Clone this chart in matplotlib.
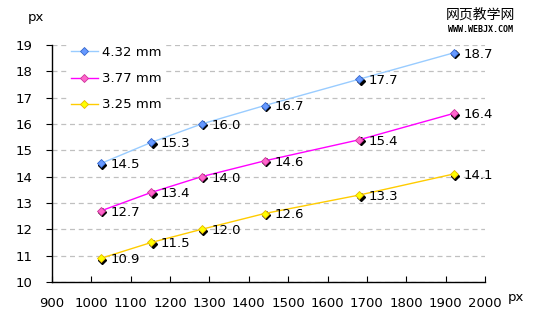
import matplotlib.pyplot as plt
import matplotlib.transforms as mtrans

plt.rcParams['font.family'] = ['DejaVu Sans', 'Noto Sans CJK SC']

x = [1024, 1152, 1280, 1440, 1680, 1920]
series_names = ['4.32 mm', '3.77 mm', '3.25 mm']
y_432 = [14.5, 15.3, 16.0, 16.7, 17.7, 18.7]
y_377 = [12.7, 13.4, 14.0, 14.6, 15.4, 16.4]
y_325 = [10.9, 11.5, 12.0, 12.6, 13.3, 14.1]

line_cols = ['#99ccff', '#ff00ff', '#ffcc00']
mark_cols = ['#6699ff', '#ff66cc', '#ffff00']
edge_cols = ['#3366cc', '#cc3399', '#e6b800']

fig = plt.figure(figsize=(5.33, 3.32), dpi=100)
ax = fig.add_axes([0.0976, 0.1506, 0.8124, 0.7139])

shadow = mtrans.offset_copy(ax.transData, fig=fig, x=1.5, y=-1.5, units='dots')

for ys, name, lc, mc, ec in zip([y_432, y_377, y_325], series_names,
                                line_cols, mark_cols, edge_cols):
    ax.plot(x, ys, '-', color=lc, lw=1, zorder=3, label=name,
            marker='D', ms=4.5, mfc=mc, mec=ec, mew=0.6)
    ax.plot(x, ys, 'D', color='black', ms=4, transform=shadow, zorder=2.5)
    for xi, yi in zip(x, ys):
        ax.annotate('%.1f' % yi, (xi, yi), xytext=(7, -1), textcoords='offset points',
                    ha='left', va='center', fontsize=9.5, zorder=4)

ax.set_xlim(900, 2000)
ax.set_ylim(10, 19)
ax.set_xticks(range(900, 2001, 100))
ax.set_yticks(range(10, 20))
ax.grid(axis='y', color='#c0c0c0', ls=(0, (4, 3)), lw=0.9)
ax.set_axisbelow(True)
for s in ['top', 'right']:
    ax.spines[s].set_visible(False)
ax.spines['left'].set_linewidth(1)
ax.spines['bottom'].set_linewidth(1)
ax.tick_params(axis='y', direction='out', length=4, labelsize=9.5, pad=10)
ax.tick_params(axis='x', direction='in', length=4, labelsize=9.5, pad=11)

leg = ax.legend(loc='upper left', bbox_to_anchor=(0.02, 1.04), frameon=True,
                edgecolor='none', facecolor='white', framealpha=1, fontsize=9.5,
                handlelength=2.0, handletextpad=0.3, labelspacing=1.0, borderpad=0.3)
leg.set_zorder(5)

fig.text(28 / 533, 1 - 18 / 332, 'px', fontsize=9.5, ha='left', va='center')
fig.text(508 / 533, 1 - 298 / 332, 'px', fontsize=9.5, ha='left', va='center')
fig.text(480 / 533, 1 - 15 / 332, '网页教学网', fontsize=10, ha='center', va='center',
         family=['Noto Sans CJK SC', 'DejaVu Sans'])
fig.text(480 / 533, 1 - 29 / 332, 'WWW.WEBJX.COM', fontsize=6, ha='center', va='center',
         family='DejaVu Sans Mono', weight='bold')

fig.savefig('out.png', dpi=100)
